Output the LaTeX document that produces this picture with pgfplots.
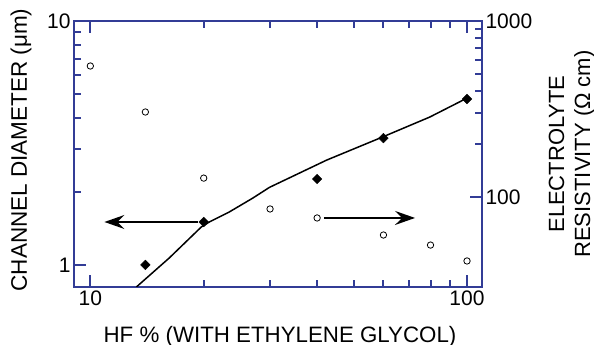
\documentclass[border=0pt]{standalone}
\usepackage{fontspec}
\setmainfont{Liberation Sans}
\usepackage{pgfplots}
\pgfplotsset{compat=1.18}
\usetikzlibrary{arrows.meta}
\pgfkeys{/pgf/number format/assume math mode=true, /pgf/number format/1000 sep={}}
\pgfplotsset{every axis/.append style={
    axis line style={draw={rgb,255:red,50;green,60;blue,150}, line width=2pt},
    every tick/.append style={draw={rgb,255:red,50;green,60;blue,150}, line width=2pt},
    major tick length=12pt, minor tick length=7pt}}

\begin{document}
\begin{tikzpicture}
\begin{axis}[scale only axis, width=408pt, height=266pt,
    at={(0,0)}, anchor=south west,
    xmode=log, ymode=log, xmin=9.05, xmax=109.6, ymin=0.812, ymax=10,
    log ticks with fixed point,
    tick align=inside,
    ytick={1,10}, xtick={10,100}, ytick pos=left, xtick pos=both,
    tick label style={font=\fontsize{21}{25}\selectfont, text=black}]
\addplot[black, line width=1.5pt, no marks] coordinates {
 (13.25,0.812) (16.2,1.068) (19.7,1.43) (20.7,1.50) (23.4,1.65) (27.0,1.88) (29.9,2.08) (42.4,2.69) (59.8,3.35) (79.7,4.04) (100,4.83)};
\addplot[only marks, mark=square*, mark size=3.4pt, mark options={rotate=45, fill=black, draw=black}] coordinates {
 (14,1.0) (20,1.5) (40,2.25) (60,3.31) (100,4.79)};
\draw[line width=1.6pt, -{Stealth[length=20pt, width=14pt, inset=7pt]}] (axis cs:19.3,1.5) -- (axis cs:10.9,1.5);
\draw[line width=1.6pt, -{Stealth[length=20pt, width=14pt, inset=7pt]}] (axis cs:41.7,1.558) -- (axis cs:72.8,1.558);
\end{axis}
\begin{axis}[scale only axis, width=408pt, height=266pt,
    at={(0,0)}, anchor=south west,
    xmode=log, ymode=log, xmin=9.05, xmax=109.6, ymin=30.8, ymax=1000,
    log ticks with fixed point,
    axis y line*=right, axis x line=none, tick align=inside,
    ytick={100,1000},
    tick label style={font=\fontsize{21}{25}\selectfont, text=black}]
\addplot[only marks, mark=o, mark size=3.2pt, mark options={line width=0.8pt, draw=black}] coordinates {
 (10,555) (14,304) (20,128) (30,85.5) (40,76) (60,60.8) (80,53.3) (100,43.3)};
\end{axis}
\node[anchor=base, font=\fontsize{22.3}{26}\selectfont] at (206pt,-56pt) {HF \% (WITH ETHYLENE GLYCOL)};
\node[rotate=90, anchor=base, font=\fontsize{22.5}{26}\selectfont] at (-47pt,137pt) {CHANNEL DIAMETER (μm)};
\node[rotate=90, anchor=base, font=\fontsize{22}{26}\selectfont] at (490pt,133pt) {ELECTROLYTE};
\node[rotate=90, anchor=base, font=\fontsize{22}{26}\selectfont] at (516pt,133pt) {RESISTIVITY (Ω cm)};
\pgfresetboundingbox
\path[use as bounding box] (-74pt,-58pt) rectangle (520pt,287pt);
\end{tikzpicture}
\end{document}
